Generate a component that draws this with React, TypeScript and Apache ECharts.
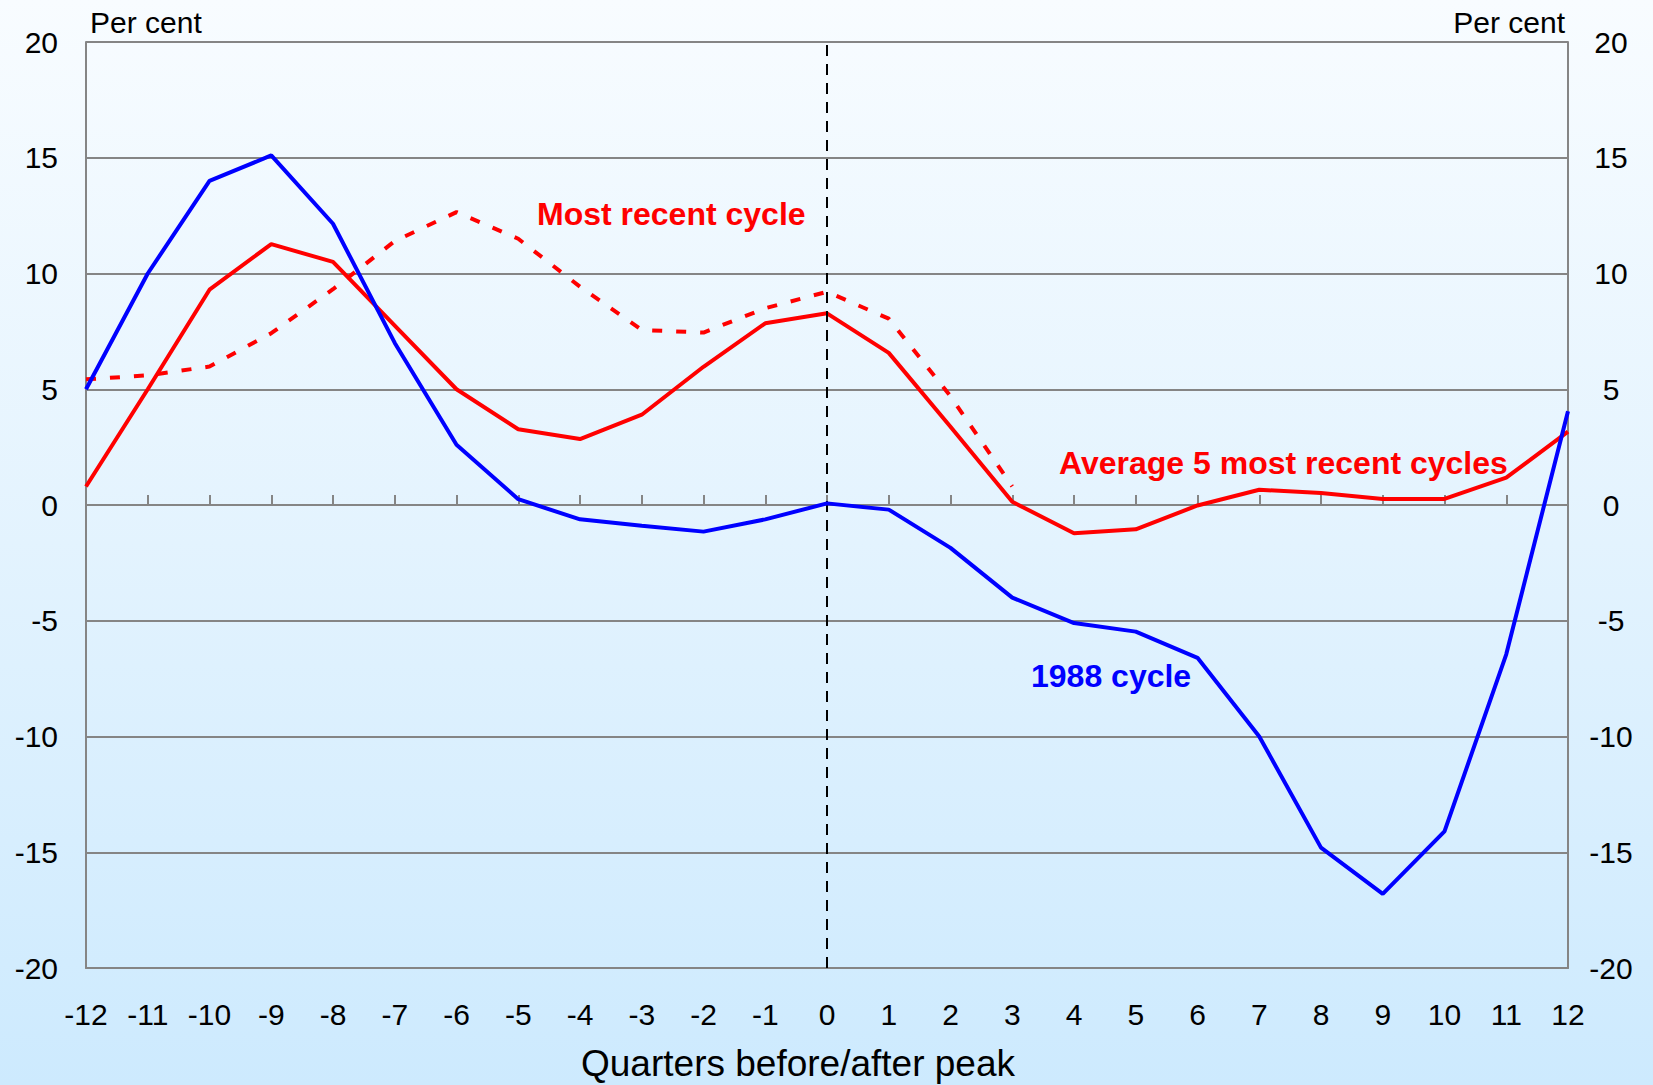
import React, { useEffect, useRef } from "react";
import * as echarts from "echarts";

const quarters = [-12, -11, -10, -9, -8, -7, -6, -5, -4, -3, -2, -1, 0, 1, 2, 3, 4, 5, 6, 7, 8, 9, 10, 11, 12];
const cycle1988 = [5.0, 10.0, 14.0, 15.1, 12.15, 7.0, 2.6, 0.25, -0.62, -0.9, -1.15, -0.62, 0.07, -0.2, -1.85, -4.0, -5.1, -5.47, -6.6, -10.0, -14.8, -16.8, -14.1, -6.45, 4.05];
const average5 = [0.8, 5.0, 9.3, 11.27, 10.5, 7.75, 5.0, 3.27, 2.85, 3.9, 5.97, 7.85, 8.28, 6.57, 3.38, 0.14, -1.22, -1.05, -0.02, 0.66, 0.52, 0.26, 0.26, 1.18, 3.17];
const mostRecentQuarters = [-12, -11, -10, -9, -8, -7, -6, -5, -4, -3, -2, -1, 0, 1, 2, 3];
const mostRecent = [5.43, 5.6, 5.98, 7.42, 9.32, 11.4, 12.65, 11.5, 9.43, 7.56, 7.45, 8.5, 9.21, 8.05, 4.7, 0.8];
const yTicksMin = -20;
const yTicksMax = 20;
const yStep = 5;

const FONT = "'Liberation Sans', Arial, Helvetica, sans-serif";
const GRID_GRAY = "#858585";

export default function App() {
  const ref = useRef<HTMLDivElement>(null);
  useEffect(() => {
    if (!ref.current) return;
    const chart = echarts.init(ref.current, null, { renderer: "svg" });
    const axisLabelBase = { color: "#000", fontSize: 30, fontFamily: FONT };
    chart.setOption({
      animation: false,
      backgroundColor: new echarts.graphic.LinearGradient(0, 0, 0, 1, [
        { offset: 0, color: "#f8fcff" },
        { offset: 0.5, color: "#e3f3fe" },
        { offset: 1, color: "#cdeafe" },
      ]),
      grid: { left: 86, top: 42, right: 85, bottom: 117, containLabel: false },
      xAxis: [
        {
          type: "value",
          position: "bottom",
          min: -12,
          max: 12,
          interval: 1,
          axisLine: { show: true, onZero: false, lineStyle: { color: GRID_GRAY, width: 2 } },
          axisTick: { show: false },
          splitLine: { show: false },
          axisLabel: { ...axisLabelBase, margin: 46, verticalAlign: "middle" },
        },
        {
          type: "value",
          position: "top",
          min: -12,
          max: 12,
          interval: 1,
          axisLine: { show: true, onZero: true, lineStyle: { color: GRID_GRAY, width: 2 } },
          axisTick: { show: true, length: 10, lineStyle: { color: GRID_GRAY, width: 2 } },
          splitLine: { show: false },
          axisLabel: { show: false },
        },
      ],
      yAxis: [
        {
          type: "value",
          position: "left",
          min: yTicksMin,
          max: yTicksMax,
          interval: yStep,
          axisLine: { show: true, onZero: false, lineStyle: { color: GRID_GRAY, width: 2 } },
          axisTick: { show: false },
          splitLine: { show: true, lineStyle: { color: GRID_GRAY, width: 2 } },
          axisLabel: { ...axisLabelBase, margin: 28, align: "right" },
        },
        {
          type: "value",
          position: "right",
          min: yTicksMin,
          max: yTicksMax,
          interval: yStep,
          axisLine: { show: true, onZero: false, lineStyle: { color: GRID_GRAY, width: 2 } },
          axisTick: { show: false },
          splitLine: { show: false },
          axisLabel: { ...axisLabelBase, margin: 43, align: "center" },
        },
      ],
      series: [
        {
          name: "Most recent cycle",
          type: "line",
          xAxisIndex: 0,
          yAxisIndex: 0,
          data: mostRecentQuarters.map((q, i) => [q, mostRecent[i]]),
          showSymbol: false,
          symbol: "none",
          lineStyle: { color: "#ff0000", width: 4, type: [10, 14] },
          z: 3,
          markLine: {
            silent: true,
            symbol: ["none", "none"],
            label: { show: false },
            lineStyle: { color: "#000", width: 2, type: [11, 8] },
            data: [{ xAxis: 0 }],
          },
        },
        {
          name: "Average 5 most recent cycles",
          type: "line",
          xAxisIndex: 0,
          yAxisIndex: 0,
          data: quarters.map((q, i) => [q, average5[i]]),
          showSymbol: false,
          symbol: "none",
          lineStyle: { color: "#ff0000", width: 4 },
          z: 4,
        },
        {
          name: "1988 cycle",
          type: "line",
          xAxisIndex: 0,
          yAxisIndex: 0,
          data: quarters.map((q, i) => [q, cycle1988[i]]),
          showSymbol: false,
          symbol: "none",
          lineStyle: { color: "#0000ff", width: 4 },
          z: 5,
        },
      ],
      graphic: [
        {
          type: "text",
          x: 90,
          y: 22,
          style: { text: "Per cent", fill: "#000", font: `30px ${FONT}`, textAlign: "left", textVerticalAlign: "middle" },
        },
        {
          type: "text",
          x: 1565,
          y: 22,
          style: { text: "Per cent", fill: "#000", font: `30px ${FONT}`, textAlign: "right", textVerticalAlign: "middle" },
        },
        {
          type: "text",
          x: 798,
          y: 1063,
          style: { text: "Quarters before/after peak", fill: "#000", font: `37px ${FONT}`, textAlign: "center", textVerticalAlign: "middle" },
        },
        {
          type: "text",
          x: 537,
          y: 214,
          z: 10,
          style: { text: "Most recent cycle", fill: "#ff0000", font: `bold 32px ${FONT}`, textAlign: "left", textVerticalAlign: "middle" },
        },
        {
          type: "text",
          x: 1059,
          y: 463,
          z: 10,
          style: { text: "Average 5 most recent cycles", fill: "#ff0000", font: `bold 32px ${FONT}`, textAlign: "left", textVerticalAlign: "middle" },
        },
        {
          type: "text",
          x: 1031,
          y: 676,
          z: 10,
          style: { text: "1988 cycle", fill: "#0000ff", font: `bold 32px ${FONT}`, textAlign: "left", textVerticalAlign: "middle" },
        },
      ],
    });
    return () => chart.dispose();
  }, []);
  return (
    <div
      ref={ref}
      style={{ position: "fixed", left: 0, top: 0, width: 1653, height: 1085 }}
    />
  );
}
